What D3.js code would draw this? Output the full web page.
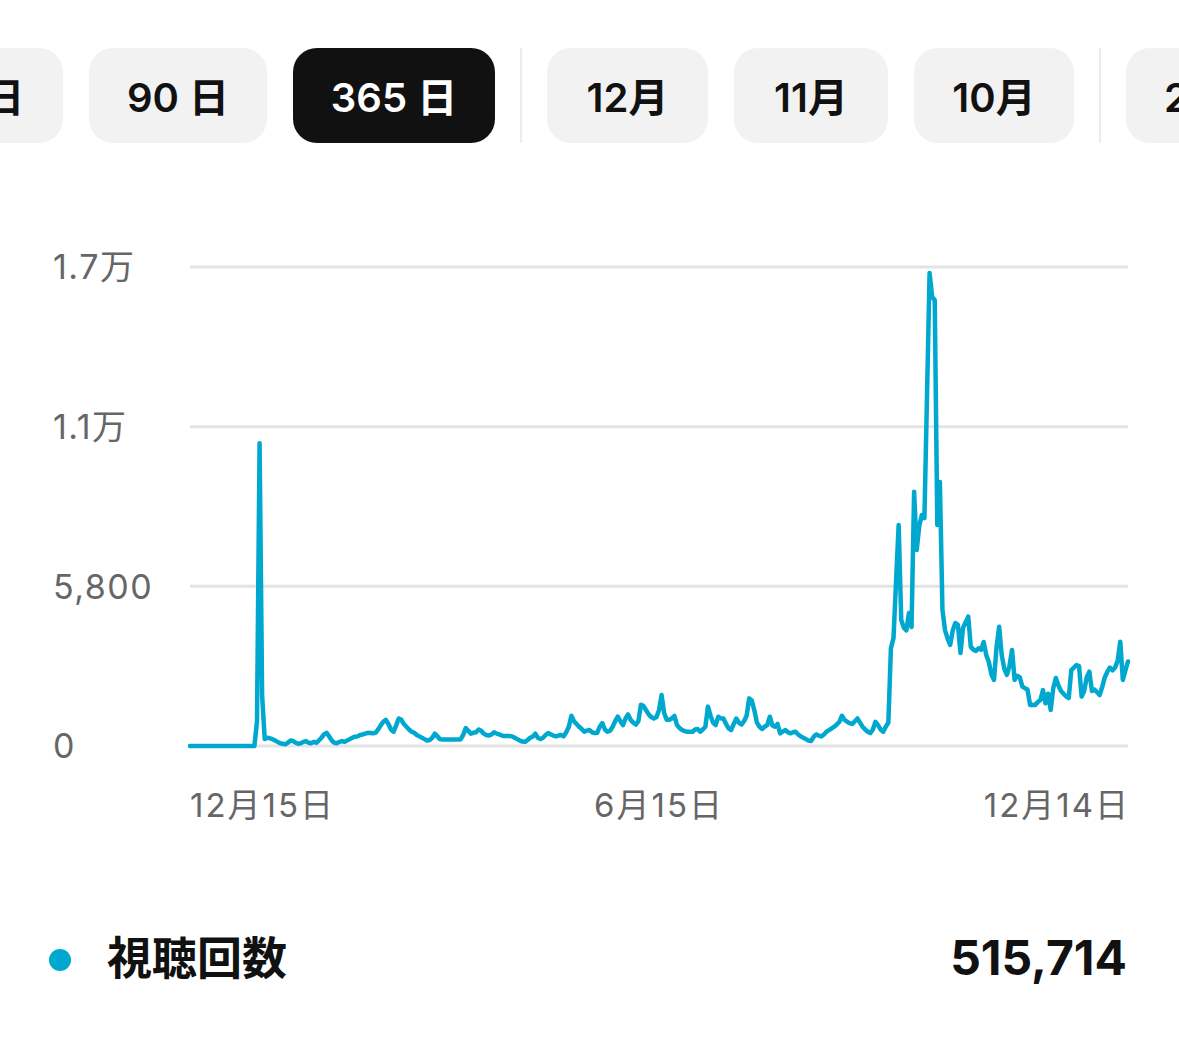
<!DOCTYPE html>
<html>
<head>
<meta charset="utf-8">
<style>
body { margin: 0; background: #fff; }
svg { display: block; }
.tab text { font-family: Inter, "Noto Sans CJK JP", sans-serif; font-size: 40px; font-weight: 600; }
.ylab, .xlab { font-family: Inter, "Noto Sans CJK JP", sans-serif; fill: #666; }
.ylab { letter-spacing: 1.5px; }
.xlab { letter-spacing: 2px; }
.legend text { font-family: Inter, "Noto Sans CJK JP", sans-serif; font-weight: 700; fill: #111; }
</style>
<script src="https://cdn.jsdelivr.net/npm/d3@7"></script>
</head>
<body>
<svg width="1179" height="1059"></svg>
<script>

// tabs along the top
var tabLabels = ["28 日", "90 日", "365 日", "12月", "11月", "10月", "2024"];
var activeTab = "365 日";

// y ticks and their labels
var yTicks = [0, 5800, 11600, 17400];
var yTickLabels = ["0", "5,800", "1.1万", "1.7万"];

// x tick labels (first day, middle, last day)
var xTickDates = ["2022-12-15", "2023-06-15", "2023-12-14"];
var xTickLabels = ["12月15日", "6月15日", "12月14日"];

var seriesName = "視聴回数";
var seriesTotal = "515,714";
var startDate = "2022-12-15";

// daily views, 365 days
var views = [
  0,0,0,0,0,0,0,0,0,0, 0,0,0,0,0,0,0,0,0,0, 0,0,0,0,0,0,
  900, 11000, 1800, 250,
  300, 280, 250, 200, 150, 100, 80, 60, 120, 200,
  180, 120, 80, 100, 150, 180, 120, 100, 150, 120,
  200, 300, 420, 480, 350, 200, 120, 100, 150, 180,
  150, 200, 250, 300, 340, 350, 400, 420, 450, 480,
  470, 460, 480, 600, 750, 880, 950, 800, 600, 520,
  750, 1000, 950, 800, 700, 600, 520, 480, 400, 350,
  300, 250, 200, 220, 300, 450, 350, 250, 240, 240,
  240, 240, 240, 240, 240, 240, 400, 650, 550, 450,
  480, 500, 600, 550, 450, 400, 380, 420, 500, 450,
  420, 380, 360, 360, 360, 350, 300, 250, 200, 160,
  150, 220, 300, 340, 450, 300, 250, 300, 400, 470,
  420, 380, 350, 380, 400, 350, 500, 700, 1100, 900,
  800, 700, 620, 520, 560, 580, 500, 470, 480, 700,
  830, 600, 520, 550, 700, 900, 1065, 900, 760, 1000,
  1150, 950, 850, 780, 900, 1500, 1450, 1300, 1150, 1050,
  1000, 1050, 1300, 1850, 1200, 950, 950, 1000, 1090, 760,
  650, 580, 540, 520, 520, 520, 600, 620, 520, 600,
  700, 1430, 1100, 850, 760, 1065, 1000, 1000, 800, 640,
  580, 800, 1000, 850, 780, 900, 1100, 1730, 1650, 1300,
  850, 700, 620, 700, 760, 1065, 750, 700, 800, 460,
  520, 580, 500, 460, 500, 520, 420, 350, 300, 250,
  200, 180, 330, 420, 380, 350, 420, 520, 580, 640,
  700, 780, 880, 1100, 950, 880, 830, 800, 900, 1000,
  850, 700, 600, 520, 470, 600, 880, 760, 600, 520,
  700, 850, 3560, 3920, 6000, 8030, 4580, 4300, 4200, 4830,
  4320, 9240, 7120, 8000, 8390, 8280, 12700, 17180, 16310, 16200,
  8030, 9590, 4940, 4200, 3900, 3670, 4200, 4470, 4400, 3380,
  4300, 4500, 4700, 3600, 3500, 3450, 3550, 3500, 3780, 3300,
  3050, 2600, 2400, 3600, 4330, 3300, 2800, 2580, 2900, 3490,
  2400, 2550, 2500, 2160, 2100, 2050, 1490, 1500, 1490, 1600,
  1670, 2030, 1550, 1900, 1310, 2100, 2470, 2200, 2000, 1900,
  1800, 1740, 2760, 2850, 2940, 2900, 1800, 2000, 2500, 2700,
  2000, 2050, 1950, 1850, 2150, 2500, 2700, 2850, 2750, 2850,
  3100, 3790, 2400, 2750, 3070
];

var blue = "#00a8cf";
var svg = d3.select("svg");
var parse = d3.utcParse("%Y-%m-%d");
var t0 = parse(startDate);
var dates = views.map(function(v, i) { return d3.utcDay.offset(t0, i); });

// ---- tabs ----
var tabW = [178, 178, 202, 161, 154, 160, 178];
var seps = [2, 5];  // separator after these tabs
var gap = 26, tx = -115;
var tabs = svg.append("g");
tabLabels.forEach(function(lab, i) {
  var on = lab === activeTab;
  var g = tabs.append("g").attr("class", "tab");
  g.append("rect")
    .attr("x", tx).attr("y", 48)
    .attr("width", tabW[i]).attr("height", 95)
    .attr("rx", 24)
    .attr("fill", on ? "#111" : "#f2f2f2");
  g.append("text")
    .attr("x", tx + tabW[i] / 2).attr("y", 112)
    .attr("text-anchor", "middle")
    .attr("fill", on ? "#fff" : "#111")
    .text(lab);
  tx += tabW[i] + gap;
  if (seps.indexOf(i) >= 0) {
    tabs.append("rect").attr("x", tx - 1).attr("y", 48)
      .attr("width", 2).attr("height", 95).attr("fill", "#ececec");
    tx += gap;
  }
});

// ---- chart ----
var x = d3.scaleUtc()
  .domain([dates[0], dates[dates.length - 1]])
  .range([190, 1128]);

var y = d3.scaleLinear()
  .domain([0, yTicks[yTicks.length - 1]])
  .range([746, 267]);

svg.append("g")
  .selectAll("line")
  .data(yTicks)
  .enter().append("line")
    .attr("x1", 190).attr("x2", 1128)
    .attr("y1", function(d) { return y(d); })
    .attr("y2", function(d) { return y(d); })
    .attr("stroke", "#e3e3e3")
    .attr("stroke-width", 3);

svg.append("g")
  .selectAll("text")
  .data(yTicks)
  .enter().append("text")
    .attr("class", "ylab")
    .attr("x", 53)
    .attr("y", function(d) { return y(d); })
    .attr("dy", "0.36em")
    .style("font-size", "34px")
    .text(function(d, i) { return yTickLabels[i]; });

var anchors = ["start", "middle", "end"];
svg.append("g")
  .selectAll("text")
  .data(xTickDates)
  .enter().append("text")
    .attr("class", "xlab")
    .attr("x", function(d, i) { return x(parse(d)) + (i === 2 ? 2 : 0); })
    .attr("y", 817)
    .attr("text-anchor", function(d, i) { return anchors[i]; })
    .style("font-size", "33px")
    .text(function(d, i) { return xTickLabels[i]; });

var line = d3.line()
  .x(function(d, i) { return x(dates[i]); })
  .y(function(d) { return y(d); });

svg.append("path")
  .datum(views)
  .attr("d", line)
  .attr("fill", "none")
  .attr("stroke", blue)
  .attr("stroke-width", 4.5)
  .attr("stroke-linejoin", "round")
  .attr("stroke-linecap", "round");

// ---- legend row ----
var lg = svg.append("g").attr("class", "legend");
lg.append("circle").attr("cx", 60).attr("cy", 960).attr("r", 11).attr("fill", blue);
lg.append("text").attr("x", 107).attr("y", 975).style("font-size", "45px").text(seriesName);
lg.append("text").attr("x", 1127).attr("y", 975).attr("text-anchor", "end")
  .style("font-size", "48px").text(seriesTotal);

</script>
</body>
</html>
